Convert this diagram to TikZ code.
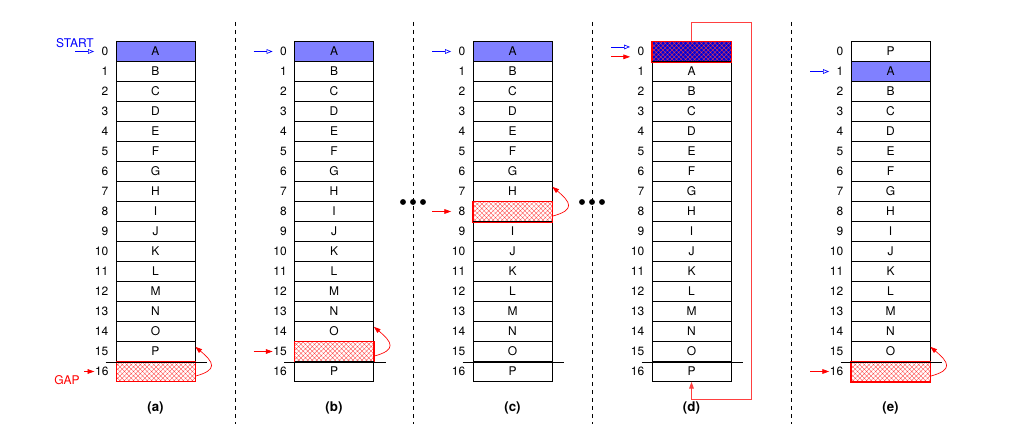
\documentclass[tikz,border=0pt]{standalone}
\usepackage{fontspec}
\setmainfont{TeX Gyre Heros}
\usetikzlibrary{positioning,patterns.meta,arrows.meta}
\tikzset{
	cell/.style     = {shape=rectangle, draw, line width=0.6pt,
		minimum width=59.25pt, minimum height=15pt, inner sep=0pt,
		font=\fontsize{9}{10}\selectfont},
	startcell/.style    = {cell, fill=blue!50},
	gapcell/.style      = {cell, draw=red,
		pattern={Hatch[angle=45,distance=2.4pt,line width=0.25pt]}, pattern color=red!75},
	startgapcell/.style = {gapcell, preaction={fill=blue!85!black}},
	index/.style    = {inner sep=0pt, text width=10.5pt, align=right,
		font=\fontsize{9}{10}\selectfont},
	caption/.style  = {font=\fontsize{10}{12}\selectfont\bfseries},
	ptrtext/.style  = {font=\fontsize{9}{10}\selectfont},
	startptr/.style = {draw=blue, line width=0.5pt, -{Triangle[open,length=4.5pt,width=3.5pt]}},
	gapptr/.style   = {draw=red, line width=0.5pt, -{Triangle[length=5pt,width=3.5pt]}},
	sepline/.style  = {line width=0.6pt, dash pattern=on 3pt off 3pt},
	wrapline/.style = {line width=0.6pt}
}
\newcommand{\memcolumn}[5]{%
	\foreach \txt [count=\i from 0] in {#5} {
		\tikzset{cur/.style=cell}
		\ifnum\i=#3 \tikzset{cur/.style=startcell}\fi
		\ifnum\i=#4 \ifnum\i=#3 \tikzset{cur/.style=startgapcell}\else\tikzset{cur/.style=gapcell}\fi\fi
		\node [cur] (#1\i) at (#2,{-51.5-20*\i}) {\txt};
		\node [index, left=5.25pt of #1\i] (#1i\i) {\i};
	}
	\draw [red, line width=0.45pt] (#1#4.south west) rectangle (#1#4.north east);
	\draw [wrapline] ([xshift=-7.5pt]#115.south west) -- ([xshift=9pt]#115.south east);
	\node [caption] (#1cap) at (#2,-408) {(#1)};
}

\begin{document}
\begin{tikzpicture}[x=0.75pt, y=0.75pt]
	\useasboundingbox (0,0) rectangle (1029,-428);

	\memcolumn{a}{155.5}{0}{16}{A,B,C,D,E,F,G,H,I,J,K,L,M,N,O,P,{}}
	\memcolumn{b}{334}{0}{15}{A,B,C,D,E,F,G,H,I,J,K,L,M,N,O,{},P}
	\memcolumn{c}{512.5}{0}{8}{A,B,C,D,E,F,G,H,{},I,J,K,L,M,N,O,P}
	\memcolumn{d}{691.5}{0}{0}{{},A,B,C,D,E,F,G,H,I,J,K,L,M,N,O,P}
	\memcolumn{e}{890.5}{1}{16}{P,A,B,C,D,E,F,G,H,I,J,K,L,M,N,O,{}}

	\foreach \x in {235,413,592,791}
		\draw [sepline] (\x,-22) -- (\x,-424);
	\foreach \x in {413,592}
		\foreach \dx in {-10,0,10}
			\fill (\x+\dx,-202) circle (2.2pt);

	\node [ptrtext, text=blue] (starttext) at (75,-43) {START};
	\node [ptrtext, text=red] (gaptext) at (67,-380) {GAP};

	\coordinate [left=14.25pt of ai0] (astart);
	\coordinate [left=14.25pt of bi0] (bstart);
	\coordinate [left=14.25pt of ci0] (cstart);
	\coordinate [left=14.25pt of ei1] (estart);
	\draw [startptr] (astart) -- (ai0);
	\draw [startptr] (bstart) -- (bi0);
	\draw [startptr] (cstart) -- (ci0);
	\draw [startptr] (estart) -- (ei1);

	\coordinate [left=7.5pt of ai16] (agap);
	\coordinate [left=14.25pt of bi15] (bgap);
	\coordinate [left=14.25pt of ci8] (cgap);
	\coordinate [left=14.25pt of ei16] (egap);
	\draw [gapptr] (agap) -- (ai16);
	\draw [gapptr] (bgap) -- (bi15);
	\draw [gapptr] (cgap) -- (ci8);
	\draw [gapptr] (egap) -- (ei16);

	\coordinate (dstarttip) at ([yshift=3.4pt]di0.west);
	\coordinate (dgaptip) at ([yshift=-4pt]di0.west);
	\coordinate [left=14.25pt of dstarttip] (dstart);
	\coordinate [left=14.25pt of dgaptip] (dgap);
	\draw [startptr] (dstart) -- (dstarttip);
	\draw [gapptr] (dgap) -- (dgaptip);

	\draw [gapptr] ([yshift=-3.5pt]a16.east) to[out=15, in=-40, looseness=2.1] ([yshift=3.5pt]a15.east);
	\draw [gapptr] ([yshift=-3.5pt]b15.east) to[out=15, in=-40, looseness=2.1] ([yshift=3.5pt]b14.east);
	\draw [gapptr] ([yshift=-3.5pt]c8.east) to[out=15, in=-40, looseness=2.1] ([yshift=3.5pt]c7.east);
	\draw [gapptr] ([yshift=-3.5pt]e16.east) to[out=15, in=-40, looseness=2.1] ([yshift=3.5pt]e15.east);

	\coordinate (dloopne) at (751,-22);
	\coordinate (dloopse) at (751,-399);
	\draw [gapptr, draw=red!75, line width=0.6pt] (d0.north) |- (dloopne) -- (dloopse) -| (d16.south);
\end{tikzpicture}
\end{document}
